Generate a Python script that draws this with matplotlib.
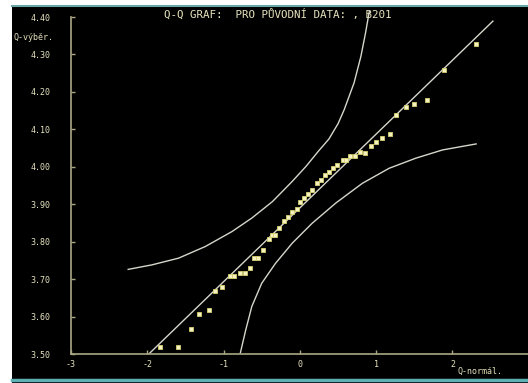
import matplotlib.pyplot as plt
from matplotlib.patches import Rectangle
from matplotlib.lines import Line2D

# sample quantiles vs normal quantiles
q_normal = [-1.84, -1.60, -1.43, -1.32, -1.19, -1.11, -1.02, -0.92, -0.86, -0.78,
            -0.72, -0.66, -0.60, -0.55, -0.48, -0.41, -0.36, -0.33, -0.27, -0.21,
            -0.16, -0.10, -0.04, 0.00, 0.06, 0.11, 0.16, 0.22, 0.28, 0.33,
            0.38, 0.43, 0.49, 0.56, 0.61, 0.66, 0.72, 0.79, 0.85, 0.93,
            1.00, 1.08, 1.18, 1.26, 1.39, 1.50, 1.66, 1.89, 2.31]
q_sample = [3.520, 3.518, 3.568, 3.607, 3.618, 3.668, 3.678, 3.707, 3.707, 3.717,
            3.717, 3.729, 3.757, 3.757, 3.778, 3.806, 3.817, 3.817, 3.837, 3.856,
            3.867, 3.878, 3.888, 3.906, 3.916, 3.927, 3.937, 3.956, 3.966, 3.977,
            3.987, 3.997, 4.006, 4.017, 4.017, 4.028, 4.028, 4.040, 4.037, 4.056,
            4.067, 4.078, 4.088, 4.138, 4.159, 4.168, 4.179, 4.259, 4.328]

# reference line end points
ref_x = [-2.00, 2.53]
ref_y = [3.496, 4.389]

# confidence band curves
upper_x = [-2.25, -1.94, -1.59, -1.24, -0.89, -0.63, -0.36, -0.10, 0.08, 0.24,
           0.38, 0.50, 0.58, 0.71, 0.80, 0.86, 0.91]
upper_y = [3.726, 3.738, 3.756, 3.787, 3.827, 3.863, 3.907, 3.961, 4.001, 4.041,
           4.074, 4.115, 4.152, 4.224, 4.295, 4.357, 4.415]
lower_x = [-0.78, -0.71, -0.63, -0.50, -0.32, -0.10, 0.16, 0.47, 0.82, 1.17,
           1.52, 1.87, 2.31]
lower_y = [3.503, 3.564, 3.627, 3.689, 3.742, 3.796, 3.849, 3.903, 3.956, 3.996,
           4.023, 4.045, 4.061]

x_ticks = [-3, -2, -1, 0, 1, 2]
y_ticks = [3.50, 3.60, 3.70, 3.80, 3.90, 4.00, 4.10, 4.20, 4.30, 4.40]

txt = '#e6e2bc'
axis_col = '#aaa884'
curve_col = '#d6d6cc'
mono = 'DejaVu Sans Mono'

W, H = 528, 383
fig = plt.figure(figsize=(5.28, 3.83), dpi=100, facecolor='white')

# black screen area with teal borders
fig.patches.append(Rectangle((12 / W, 0), 1 - 12 / W, 1 - 5 / H, transform=fig.transFigure,
                             facecolor='black', edgecolor='none', zorder=-10))
fig.lines.append(Line2D([12 / W, 1], [1 - 5.5 / H] * 2, transform=fig.transFigure,
                        color='#6aa8a8', linewidth=1.5))
fig.lines.append(Line2D([12 / W, 1], [1 - 379.5 / H] * 2, transform=fig.transFigure,
                        color='#5fb0b4', linewidth=2.5))

ax = fig.add_axes([71 / W, 1 - 354 / H, 1 - 71 / W, (354 - 17) / H])
ax.set_facecolor('none')

ax.plot(ref_x, ref_y, color=curve_col, linewidth=1)
ax.plot(upper_x, upper_y, color=curve_col, linewidth=1, clip_on=False)
ax.plot(lower_x, lower_y, color=curve_col, linewidth=1)
ax.plot(q_normal, q_sample, linestyle='none', marker='s', markersize=3,
        markerfacecolor='#f4f2c0', markeredgecolor='#d8d070', markeredgewidth=0.6)

ax.set_xlim(-3, 2.99)
ax.set_ylim(3.50, 4.40)
ax.set_xticks(x_ticks)
ax.set_xticklabels([str(v) for v in x_ticks])
ax.set_yticks(y_ticks)
ax.set_yticklabels([f'{v:.2f}' for v in y_ticks])

for s in ['top', 'right']:
    ax.spines[s].set_visible(False)
for s in ['left', 'bottom']:
    ax.spines[s].set_color(axis_col)
    ax.spines[s].set_linewidth(1.2)

ax.tick_params(axis='both', direction='in', length=3, width=1, color=axis_col,
               labelcolor=txt, labelsize=6)
ax.tick_params(axis='y', pad=15)
ax.tick_params(axis='x', pad=4)
for lab in ax.get_xticklabels() + ax.get_yticklabels():
    lab.set_family(mono)

fig.text(278 / W, 1 - 14 / H, 'Q-Q GRAF:  PRO PŮVODNÍ DATA: , B201', color=txt,
         fontsize=7.8, family=mono, ha='center', va='center')
fig.text(14 / W, 1 - 37 / H, 'Q-výběr.', color=txt, fontsize=6, family=mono,
         ha='left', va='center')
fig.text(457 / W, 1 - 371 / H, 'Q-normál.', color=txt, fontsize=6, family=mono,
         ha='left', va='center')

fig.savefig('out.png', dpi=100, facecolor=fig.get_facecolor())
